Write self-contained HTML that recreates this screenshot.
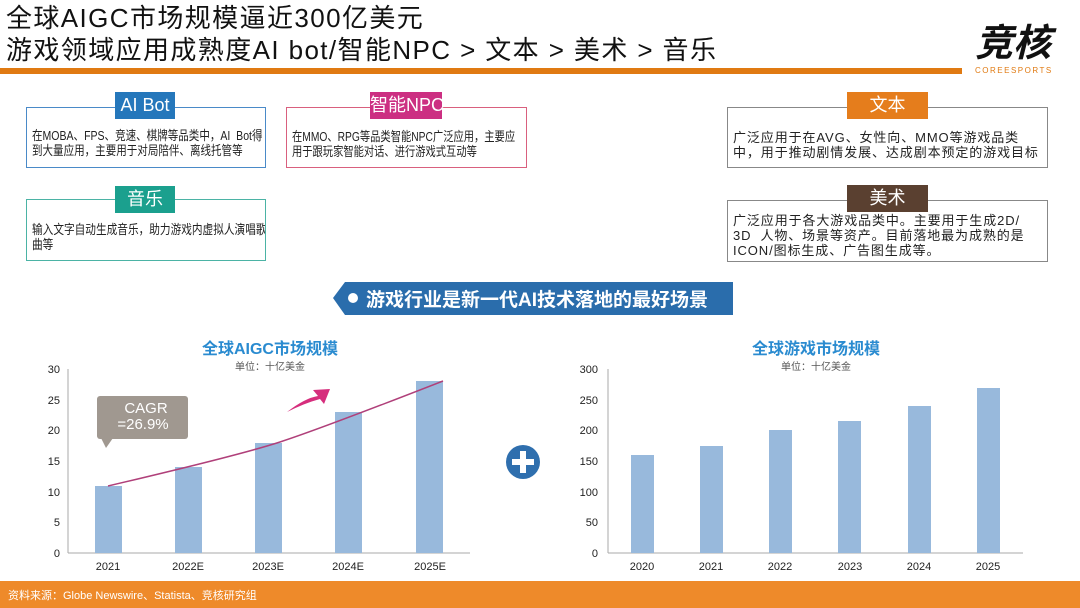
<!DOCTYPE html>
<html><head><meta charset="utf-8"><style>
*{margin:0;padding:0;box-sizing:border-box}
body{width:1080px;height:608px;background:#fff;position:relative;overflow:hidden;font-family:"Liberation Sans","Noto Sans CJK SC",sans-serif;color:#222}
.a{position:absolute}
.t{font-size:26px;line-height:32px;color:#111;left:6px;white-space:nowrap;letter-spacing:1.4px}
.box{position:absolute;border:1.5px solid;background:#fff;font-size:13px;line-height:15px;padding:20px 0 0 5px;color:#222;white-space:nowrap;overflow:hidden}
.box span{display:inline-block;transform-origin:0 0}
.lab{position:absolute;color:#fff;font-size:18px;text-align:center;line-height:27px;white-space:nowrap}
</style></head><body>
<div class="a t" style="top:2px">全球AIGC市场规模逼近300亿美元</div>
<div class="a t" style="top:34px">游戏领域应用成熟度AI bot/智能NPC &gt; 文本 &gt; 美术 &gt; 音乐</div>
<div class="a" style="left:0;top:68px;width:962px;height:6px;background:#e07a12"></div>
<div class="a" style="left:975px;top:22px;font-size:38px;font-weight:bold;color:#111;line-height:44px;font-style:italic">竞核</div>
<div class="a" style="left:975px;top:66px;font-size:8px;color:#e07a12;letter-spacing:1.5px">COREESPORTS</div>

<div class="box" style="left:26px;top:107px;width:240px;height:61px;border-color:#4a8ac8"><span style="transform:scaleX(0.81)">在MOBA、FPS、竞速、棋牌等品类中，AI&nbsp;&nbsp;Bot得<br>到大量应用，主要用于对局陪伴、离线托管等</span></div>
<div class="lab" style="left:115px;top:92px;width:60px;background:#2577bb">AI Bot</div>
<div class="box" style="left:286px;top:107px;width:241px;height:61px;border-color:#d9607e;padding-top:21px"><span style="transform:scaleX(0.79)">在MMO、RPG等品类智能NPC广泛应用，主要应<br>用于跟玩家智能对话、进行游戏式互动等</span></div>
<div class="lab" style="left:370px;top:92px;width:72px;background:#cc2f82">智能NPC</div>
<div class="box" style="left:26px;top:199px;width:240px;height:62px;border-color:#4bb3a5;padding-top:22px"><span style="transform:scaleX(0.82)">输入文字自动生成音乐，助力游戏内虚拟人演唱歌<br>曲等</span></div>
<div class="lab" style="left:115px;top:186px;width:60px;background:#1ba08e">音乐</div>
<div class="box" style="left:727px;top:107px;width:321px;height:61px;border-color:#888;padding-top:22px;letter-spacing:0.9px">广泛应用于在AVG、女性向、MMO等游戏品类<br>中，用于推动剧情发展、达成剧本预定的游戏目标</div>
<div class="lab" style="left:847px;top:92px;width:81px;background:#e57d1c">文本</div>
<div class="box" style="left:727px;top:200px;width:321px;height:62px;border-color:#888;padding-top:12px;letter-spacing:0.9px">广泛应用于各大游戏品类中。主要用于生成2D/<br>3D&nbsp;&nbsp;人物、场景等资产。目前落地最为成熟的是<br>ICON/图标生成、广告图生成等。</div>
<div class="lab" style="left:847px;top:185px;width:81px;background:#5a4030">美术</div>

<svg class="a" style="left:0;top:0" width="1080" height="608">
<polygon points="333,298 345,282 733,282 733,315 345,315" fill="#2a6dac"/>
<circle cx="353" cy="298" r="5" fill="#fff"/>
<text x="366" y="306" font-size="19" font-weight="bold" fill="#fff" font-family="Liberation Sans,Noto Sans CJK SC,sans-serif">游戏行业是新一代AI技术落地的最好场景</text>

<g font-family="Liberation Sans,Noto Sans CJK SC,sans-serif">
<text x="270" y="354" font-size="16" font-weight="bold" fill="#2a8bd0" text-anchor="middle">全球AIGC市场规模</text>
<text x="270" y="370" font-size="10" fill="#555" text-anchor="middle">单位：十亿美金</text>
<line x1="68" y1="369" x2="68" y2="553" stroke="#aaa"/>
<line x1="68" y1="553" x2="470" y2="553" stroke="#aaa"/>
<g font-size="11" fill="#222" text-anchor="end">
<text x="60" y="557">0</text><text x="60" y="496">10</text><text x="60" y="526">5</text><text x="60" y="465">15</text><text x="60" y="434">20</text><text x="60" y="404">25</text><text x="60" y="373">30</text>
</g>
<g fill="#98b9dc">
<rect x="95" y="486" width="27" height="67"/><rect x="175" y="467" width="27" height="86"/><rect x="255" y="443" width="27" height="110"/><rect x="335" y="412" width="27" height="141"/><rect x="416" y="381" width="27" height="172"/>
</g>
<g font-size="11" fill="#222" text-anchor="middle">
<text x="108" y="570">2021</text><text x="188" y="570">2022E</text><text x="268" y="570">2023E</text><text x="348" y="570">2024E</text><text x="430" y="570">2025E</text>
</g>
<path d="M108,486 Q240,455 280,442 T443,381" fill="none" stroke="#b0407a" stroke-width="1.5"/>
<rect x="97" y="396" width="91" height="43" rx="3" fill="#a09890"/>
<polygon points="101,438 113,438 106,448" fill="#a09890"/>
<text x="146" y="413" font-size="15" fill="#fff" text-anchor="middle">CAGR</text>
<text x="143" y="429" font-size="15" fill="#fff" text-anchor="middle">=26.9%</text>
<path d="M287,412 Q305,398 318,396 L313,390 L330,389 L324,404 L320,399 Q305,403 287,412 Z" fill="#d62e7d"/>

<circle cx="523" cy="462" r="17" fill="#2f6fae"/>
<rect x="512" y="459" width="22" height="6" fill="#fff"/><rect x="520" y="451" width="6" height="22" fill="#fff"/>

<text x="816" y="354" font-size="16" font-weight="bold" fill="#2a8bd0" text-anchor="middle">全球游戏市场规模</text>
<text x="816" y="370" font-size="10" fill="#555" text-anchor="middle">单位：十亿美金</text>
<line x1="608" y1="369" x2="608" y2="553" stroke="#aaa"/>
<line x1="608" y1="553" x2="1023" y2="553" stroke="#aaa"/>
<g font-size="11" fill="#222" text-anchor="end">
<text x="598" y="557">0</text><text x="598" y="526">50</text><text x="598" y="496">100</text><text x="598" y="465">150</text><text x="598" y="434">200</text><text x="598" y="404">250</text><text x="598" y="373">300</text>
</g>
<g fill="#98b9dc">
<rect x="631" y="455" width="23" height="98"/><rect x="700" y="446" width="23" height="107"/><rect x="769" y="430" width="23" height="123"/><rect x="838" y="421" width="23" height="132"/><rect x="908" y="406" width="23" height="147"/><rect x="977" y="388" width="23" height="165"/>
</g>
<g font-size="11" fill="#222" text-anchor="middle">
<text x="642" y="570">2020</text><text x="711" y="570">2021</text><text x="780" y="570">2022</text><text x="850" y="570">2023</text><text x="919" y="570">2024</text><text x="988" y="570">2025</text>
</g>
</g>
<rect x="0" y="581" width="1080" height="27" fill="#ee8a2a"/>
<text x="8" y="599" font-size="11" fill="#fff" font-family="Liberation Sans,Noto Sans CJK SC,sans-serif">资料来源：Globe Newswire、Statista、竞核研究组</text>
</svg>
</body></html>
